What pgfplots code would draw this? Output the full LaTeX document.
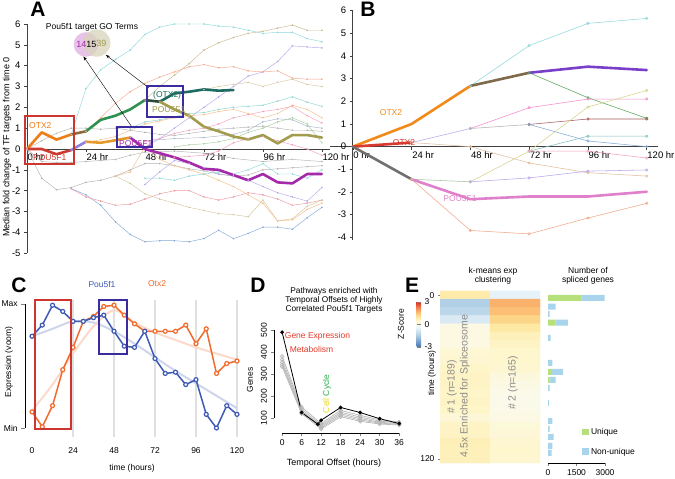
\documentclass[border=0pt]{standalone}
\usepackage{fontspec}
\setmainfont{Liberation Sans}
\usepackage{pgfplots}
\pgfplotsset{compat=1.18}
\usetikzlibrary{arrows.meta}
\newcommand\fs[1]{\fontsize{#1}{#1}\selectfont}

% panel A
\definecolor{aOrange}{HTML}{F07D14}
\definecolor{aBrown}{HTML}{8C6A40}
\definecolor{aGreen}{HTML}{2F9150}
\definecolor{aDark}{HTML}{2B4A3A}
\definecolor{aTeal}{HTML}{1E6B62}
\definecolor{aOlive}{HTML}{A29C4C}
\definecolor{aRed}{HTML}{CC3A30}
\definecolor{aLav}{HTML}{8E80E0}
\definecolor{aGold}{HTML}{E39A2A}
\definecolor{aMag}{HTML}{A52AAA}
\definecolor{boxRed}{HTML}{CC3530}
\definecolor{boxBlue}{HTML}{3A2CA0}
\definecolor{vPink}{HTML}{E6BCE6}
\definecolor{vBeige}{HTML}{D8D4BA}
\definecolor{tcyan}{HTML}{90D8DC}
\definecolor{ttan}{HTML}{C9B98E}
\definecolor{tlav}{HTML}{B9A6EA}
\definecolor{tsal}{HTML}{F3A98C}
\definecolor{tcyanb}{HTML}{8ED6CF}
\definecolor{torange}{HTML}{F6BE88}
\definecolor{tpink}{HTML}{F0A0BC}
\definecolor{tgray}{HTML}{B3B3B3}
\definecolor{tblue}{HTML}{82AAD8}
\definecolor{tred}{HTML}{EC98A0}
\definecolor{ttanb}{HTML}{D6C8A2}
\definecolor{tgreen}{HTML}{A8D0A0}
\definecolor{tgb}{HTML}{A8B8C8}
% panel B
\definecolor{bOrange}{HTML}{F28A1A}
\definecolor{bBrown}{HTML}{7E6A4A}
\definecolor{bPurple}{HTML}{7A3FC8}
\definecolor{bRed}{HTML}{D93A2E}
\definecolor{bGray}{HTML}{707070}
\definecolor{bPink}{HTML}{E080CC}
% panel C
\definecolor{cBlue}{HTML}{3E5AB4}
\definecolor{cOrange}{HTML}{F26B2C}
% panel D
\definecolor{dRed}{HTML}{E53A2A}
\definecolor{dYellow}{HTML}{E8D81E}
\definecolor{dGreen}{HTML}{2CB04A}
% panel E
\definecolor{uGreen}{HTML}{B5E07A}
\definecolor{nBlue}{HTML}{A8D4EC}

\pgfplotsset{
  /pgf/number format/assume math mode=true,
  tick label style={font=\fs{8.5}},
  thinA/.style={line width=0.45pt, mark=*, mark size=0.55pt, color=#1},
  thinB/.style={line width=0.55pt, mark=o, mark size=1.2pt, color=#1},
  thickL/.style={line width=2.6pt, line join=round, line cap=round, no markers, color=#1},
}

\begin{document}
\begin{tikzpicture}
\path[use as bounding box, fill=white] (0,0) rectangle (675pt,479pt);

% ---------------- A ----------------
\begin{axis}[
  at={(27pt,225.8pt)}, anchor=south west, scale only axis,
  width=303pt, height=229.2pt,
  xmin=0, xmax=123.3, ymin=-5, ymax=6,
  axis x line=middle, axis y line=left,
  hide obscured x ticks=false, hide obscured y ticks=false,
  axis line style={-, line width=0.6pt, black!75},
  xtick={0,24,48,72,96,120}, xticklabels={0 hr,24 hr,48 hr,72 hr,96 hr,120 hr},
  xticklabel style={anchor=north west, inner sep=0pt, xshift=0.5pt, yshift=-1.5pt, font=\fs{9.5}},
  ytick={-5,...,6}, yticklabel style={font=\fs{9.5}},
  tick align=outside, major tick length=3pt, tick style={black!75, line width=0.5pt},
  clip=false,
]
\addplot[thinA=tcyan] coordinates {(18,0.7)(24,2.9)(30,3.8)(36,4.3)(42,4.75)(48,5.5)(54,5.85)(60,6.0)(66,6.0)(72,6.0)(78,5.9)(84,5.85)(90,5.7)(96,5.55)(102,5.6)(108,5.6)(114,5.3)(120,5.15)};
\addplot[thinA=ttan] coordinates {(48,2.35)(54,3.0)(60,3.55)(66,4.1)(72,4.75)(78,5.1)(84,5.35)(90,5.55)(96,5.65)(102,5.8)(108,5.95)(114,5.7)(120,5.7)};
\addplot[thinA=tlav] coordinates {(42,0.55)(48,0.1)(54,0.5)(60,1.0)(66,1.5)(72,2.0)(78,2.5)(84,3.0)(90,3.5)(96,3.7)(102,4.2)(108,4.95)(114,4.9)(120,4.85)};
\addplot[thinA=tsal] coordinates {(24,0.85)(30,1.5)(36,2.2)(42,2.75)(48,3.15)(54,3.45)(60,3.7)(66,3.95)(72,4.05)(78,3.9)(84,3.95)(90,3.75)(96,3.7)(102,3.75)(108,3.4)(114,3.35)(120,3.35)};
\addplot[thinA=ttanb] coordinates {(72,2.85)(78,3.0)(84,3.1)(90,3.2)(96,3.0)(102,3.2)(108,3.35)(114,3.1)(120,3.0)};
\addplot[thinA=tcyanb] coordinates {(42,1.0)(48,1.3)(54,1.4)(60,1.55)(66,1.7)(72,1.75)(78,1.9)(84,2.0)(90,2.05)(96,2.1)(102,2.3)(108,2.5)(114,2.25)(120,2.05)};
\addplot[thinA=torange] coordinates {(24,0.3)(30,0.45)(36,0.6)(42,0.9)(48,1.2)(54,1.35)(60,1.5)(66,1.6)(72,1.65)(78,1.8)(84,1.9)(90,1.7)(96,1.5)(102,1.7)(108,2.1)(114,1.9)(120,1.5)};
\addplot[thinA=tpink] coordinates {(48,0.35)(54,0.5)(60,0.75)(66,0.9)(72,1.0)(78,1.2)(84,1.5)(90,1.65)(96,1.8)(102,1.9)(108,2.05)(114,1.6)(120,1.25)};
\addplot[thinA=tgray] coordinates {(0,0)(6,0.4)(12,0.75)(18,1.0)(24,1.0)(30,0.95)(36,1.0)(42,0.9)(48,0.8)(54,0.7)(60,0.65)(66,0.75)(72,0.85)(78,0.95)(84,1.0)(90,1.05)(96,1.1)(102,1.0)(108,0.9)(114,0.9)(120,0.85)};
\addplot[thinA=tgb] coordinates {(48,0.4)(60,0.5)(72,0.55)(84,0.7)(90,0.9)(96,1.3)(102,1.45)(108,1.4)(114,1.1)(120,1.0)};
\addplot[thinA=tgreen] coordinates {(60,0.1)(66,0.2)(72,0.25)(78,0.35)(84,0.5)(90,0.8)(96,1.0)(102,1.3)(108,1.5)(114,1.2)(120,0.3)};
\addplot[thinA=tpink] coordinates {(54,-0.3)(60,-0.4)(66,-0.35)(72,-0.3)(78,-0.1)(84,0.3)(90,0.5)(96,0.6)(102,0.4)(108,0.2)(114,0.0)(120,-0.3)};
\addplot[thinA=tgray] coordinates {(0,0)(6,-1.4)(12,-1.95)(18,-1.85)(24,-1.6)(30,-1.5)(36,-1.3)(42,-1.0)(48,-0.7)(54,-0.7)(60,-0.8)(66,-0.95)(72,-1.05)(78,-1.2)(84,-1.3)(90,-1.25)(96,-1.0)(102,-0.95)(108,-0.9)(114,-0.85)(120,-0.8)};
\addplot[thinA=tgray] coordinates {(0,0)(6,-0.6)(12,-0.65)(18,-0.65)(24,-0.6)(30,-0.55)(36,-0.5)(42,-0.3)(48,-0.15)(60,-0.1)(72,-0.2)(84,-0.45)(96,-0.6)(108,-0.5)(120,-0.6)};
\addplot[thinA=tblue] coordinates {(18,-1.9)(24,-2.2)(30,-2.7)(36,-3.5)(42,-4.1)(48,-4.45)(54,-4.4)(60,-4.4)(66,-4.45)(72,-4.3)(78,-3.9)(84,-4.3)(90,-4.05)(96,-3.75)(102,-3.75)(108,-3.85)(114,-3.3)(120,-2.8)};
\addplot[thinA=tred] coordinates {(18,-1.9)(24,-2.3)(30,-2.5)(36,-2.7)(42,-2.65)(48,-2.4)(54,-2.15)(60,-2.0)(66,-2.0)(72,-2.3)(78,-2.45)(84,-2.3)(90,-2.1)(96,-2.2)(102,-2.4)(108,-2.7)(114,-2.6)(120,-2.45)};
\addplot[thinA=ttanb] coordinates {(36,-1.3)(42,-1.65)(48,-2.15)(54,-2.4)(60,-2.6)(66,-2.8)(72,-2.95)(78,-3.1)(84,-3.15)(90,-3.25)(96,-2.45)(102,-3.45)(108,-3.35)(114,-2.75)(120,-2.45)};
\addplot[thinA=torange] coordinates {(36,-1.3)(42,-1.1)(48,0.1)(54,-0.5)(60,-0.8)(66,-1.0)(72,-1.2)(78,-1.5)(84,-1.8)(90,-2.2)(96,-2.6)(102,-3.45)(108,-3.4)(114,-2.9)(120,-2.6)};
\addplot[thinA=tlav] coordinates {(48,-1.7)(54,-1.1)(60,-0.55)(66,-0.7)(72,-0.9)(78,-1.2)(84,-1.3)(90,-1.5)(96,-1.8)(102,-2.1)(108,-2.3)(114,-2.5)(120,-1.85)};
\addplot[thinA=tcyan] coordinates {(48,-1.4)(54,-1.4)(60,-1.5)(66,-1.3)(72,-1.2)(78,-1.1)(84,-1.2)(90,-1.0)(96,-0.7)(102,-1.2)(108,-1.2)(114,-1.4)(120,-1.0)};
% thick
\addplot[thickL=aOrange] coordinates {(0,0)(6,0.8)(12,0.45)(18,0.7)};
\addplot[thickL=aBrown] coordinates {(18,0.7)(24,0.85)};
\addplot[thickL=aGreen] coordinates {(24,0.85)(30,1.4)(36,1.6)(42,1.9)(48,2.35)};
\addplot[thickL=aDark] coordinates {(48,2.35)(54,2.27)};
\addplot[thickL=aTeal] coordinates {(54,2.27)(60,2.67)(66,2.75)(72,2.86)(78,2.8)(84,2.83)};
\addplot[thickL=aOlive] coordinates {(54,2.27)(60,1.9)(66,1.6)(72,1.07)(78,0.85)(84,0.6)(90,0.46)(96,0.67)(102,0.27)(108,0.67)(114,0.67)(120,0.55)};
\addplot[thickL=aRed] coordinates {(0,0)(6,0)(12,-0.25)(18,-0.05)};
\addplot[thickL=aLav] coordinates {(18,-0.05)(24,0.35)};
\addplot[thickL=aGold] coordinates {(24,0.35)(30,0.3)(36,0.42)(42,0.55)};
\addplot[thickL=aMag] coordinates {(42,0.55)(48,0.0)(54,-0.2)(60,-0.4)(66,-0.65)(72,-0.95)(78,-1.0)(84,-1.25)(90,-1.5)(96,-1.2)(102,-1.6)(108,-1.65)(114,-1.2)(120,-1.2)};
\end{axis}

% ---------------- B ----------------
\begin{axis}[
  at={(330pt,239pt)}, anchor=south west, scale only axis,
  width=328pt, height=229.3pt,
  xmin=-9.3, xmax=124.6, ymin=-4.12, ymax=6,
  axis x line=middle, axis y line=middle,
  hide obscured x ticks=false, hide obscured y ticks=false,
  axis line style={-, line width=0.6pt, black!75},
  xtick={0,24,48,72,96,120}, xticklabels={0 hr,24 hr,48 hr,72 hr,96 hr,120 hr},
  xticklabel style={anchor=north west, inner sep=0pt, xshift=0.5pt, yshift=-1.5pt, font=\fs{9.5}},
  ytick={-4,...,6}, yticklabel style={font=\fs{9.5}},
  tick align=outside, major tick length=3pt, tick style={black!75, line width=0.5pt},
  clip=false,
]
\addplot[thinB=tcyan] coordinates {(48,2.68)(72,4.46)(96,5.44)(120,5.66)};
\addplot[thinB={green!30!gray}] coordinates {(72,3.26)(96,2.16)(120,1.25)};
\addplot[thinB={magenta!45}] coordinates {(48,0.8)(72,1.72)(96,2.1)(120,2.1)};
\addplot[thinB=tlav] coordinates {(24,0.18)(48,0.8)};
\addplot[thinB=tgray] coordinates {(48,0.8)(72,0.98)};
\addplot[thinB={red!30!gray}] coordinates {(72,0.98)(96,1.22)(120,1.22)};
\addplot[thinB=tblue] coordinates {(72,0.98)(96,0.25)(120,0.0)};
\addplot[thinB={teal!50}] coordinates {(72,-0.2)(96,0.46)(120,0.46)};
\addplot[thinB={brown!50}] coordinates {(24,0.18)(48,0.0)(72,-0.72)(96,-1.15)(120,-1.3)};
\addplot[thinB={olive!35}] coordinates {(48,-1.55)(72,-0.2)(96,1.75)(120,2.48)};
\addplot[thinB=tpink] coordinates {(72,-0.2)(96,-0.2)(120,-0.5)};
\addplot[thinB={green!20!gray!60}] coordinates {(24,-1.44)(48,-1.55)};
\addplot[thinB=tlav] coordinates {(48,-1.55)(72,-1.38)(96,-1.08)(120,-1.03)};
\addplot[thinB=tsal] coordinates {(24,-1.44)(48,-3.7)(72,-3.85)(96,-3.15)(120,-2.5)};
\addplot[thickL=bOrange] coordinates {(0,0)(24,1.0)(48,2.68)};
\addplot[thickL=bBrown] coordinates {(48,2.68)(72,3.26)};
\addplot[thickL=bPurple] coordinates {(72,3.26)(96,3.53)(120,3.38)};
\addplot[thickL=bRed] coordinates {(0,0)(24,0.18)};
\addplot[thickL=bGray] coordinates {(0,0)(24,-1.44)};
\addplot[thickL=bPink] coordinates {(24,-1.44)(48,-2.32)(72,-2.2)(96,-2.2)(120,-1.99)};
\end{axis}

% ---------------- C ----------------
\begin{axis}[
  at={(25.2pt,38.6pt)}, anchor=south west, scale only axis,
  width=215.2pt, height=148.8pt,
  xmin=-4, xmax=122, ymin=-0.1, ymax=1.1,
  axis line style={draw=none},
  xtick={0,24,...,120}, xtick pos=bottom, ytick pos=left,
  ytick={0,1}, yticklabels={Min,Max},
  tick align=outside, major tick length=4pt,
  xtick style={draw=none}, ytick style={line width=0.6pt},
  clip=false,
]
\draw[line width=0.6pt] (axis cs:-4,0) -- (axis cs:-4,1);
\pgfplotsinvokeforeach{24,48,72,96,120}{\draw[black!12, line width=1.3pt] (axis cs:#1,-0.07) -- (axis cs:#1,1.03);}
\addplot[color=cBlue!25, line width=2pt, no markers, smooth] coordinates {(0,0.74)(12,0.8)(24,0.86)(36,0.85)(48,0.78)(60,0.68)(72,0.57)(84,0.46)(96,0.36)(108,0.26)(120,0.16)};
\addplot[color=cOrange!25, line width=2pt, no markers, smooth] coordinates {(0,0.14)(12,0.35)(24,0.6)(36,0.82)(48,0.95)(60,0.85)(72,0.77)(84,0.71)(96,0.65)(108,0.6)(120,0.55)};
\addplot[color=cOrange, line width=1.5pt, mark=*, mark size=2pt, mark options={fill=white, line width=1.2pt}] coordinates {(0,0.13)(6,0.01)(12,0.18)(18,0.47)(24,0.65)(30,0.86)(36,0.9)(42,0.98)(48,0.99)(54,0.91)(60,0.84)(66,0.78)(72,0.78)(78,0.78)(84,0.78)(90,0.83)(96,0.68)(102,0.8)(108,0.44)(114,0.52)(120,0.54)};
\addplot[color=cBlue, line width=1.5pt, mark=*, mark size=2pt, mark options={fill=white, line width=1.2pt}] coordinates {(0,0.74)(6,0.83)(12,0.99)(18,0.94)(24,0.86)(30,0.86)(36,0.89)(42,0.91)(48,0.78)(54,0.66)(60,0.65)(66,0.78)(72,0.56)(78,0.44)(84,0.45)(90,0.35)(96,0.39)(102,0.11)(108,0.0)(114,0.18)(120,0.11)};
\end{axis}

% ---------------- D ----------------
\begin{axis}[
  at={(274pt,46pt)}, anchor=south west, scale only axis,
  width=128.4pt, height=105.2pt,
  xmin=-2.5, xmax=37, ymin=32, ymax=510,
  axis line style={draw=none},
  xtick={0,6,...,36}, ytick={100,200,...,500},
  xtick pos=bottom, ytick pos=left, tick align=outside, major tick length=3.5pt,
  tick style={line width=0.6pt},
  yticklabel style={rotate=90, anchor=south},
  clip=false,
]
\draw[line width=0.6pt] (axis cs:-2.5,100) -- (axis cs:-2.5,500);
\draw[line width=0.6pt] (axis cs:0,32) -- (axis cs:36,32);
\addplot[color=black!28, line width=0.7pt, mark=o, mark size=1.8pt] coordinates {(0,380)(6,150)(12,75)(18,135)(24,112)(30,92)(36,82)};
\addplot[color=black!28, line width=0.7pt, mark=o, mark size=1.8pt] coordinates {(0,365)(6,140)(12,68)(18,127)(24,104)(30,86)(36,78)};
\addplot[color=black!28, line width=0.7pt, mark=o, mark size=1.8pt] coordinates {(0,352)(6,132)(12,62)(18,120)(24,97)(30,81)(36,74)};
\addplot[color=black!28, line width=0.7pt, mark=o, mark size=1.8pt] coordinates {(0,342)(6,126)(12,56)(18,113)(24,91)(30,77)(36,71)};
\addplot[color=black!28, line width=0.7pt, mark=o, mark size=1.8pt] coordinates {(0,333)(6,120)(12,50)(18,106)(24,85)(30,73)(36,68)};
\addplot[color=black, line width=0.8pt, mark=*, mark size=1.5pt] coordinates {(0,490)(6,125)(11,72)(12,90)(18,148)(24,125)(30,97)(36,75)};
\end{axis}

% ---------------- E heatmap ----------------
\begin{axis}[
  at={(440pt,16pt)}, anchor=south west, scale only axis,
  width=100pt, height=172pt,
  xmin=-0.5, xmax=1.5, ymin=-0.5, ymax=20.5, y dir=reverse, enlargelimits=false,
  axis line style={draw=none}, xtick=\empty, ytick={0,20}, yticklabels={0,120},
  ytick pos=left, tick align=outside, major tick length=2pt,
  colormap={zs}{rgb255(0)=(69,117,180) rgb255(6)=(171,204,228) rgb255(10)=(230,242,248) rgb255(12)=(250,250,238) rgb255(14)=(254,246,205) rgb255(16)=(254,232,160) rgb255(18)=(253,200,120) rgb255(21)=(245,130,80) rgb255(24)=(215,48,39)},
  point meta min=-3, point meta max=3,
  colorbar,
  colorbar style={at={(parent axis.north west)}, anchor=north west, xshift=-32pt, yshift=-11pt,
    scale only axis, width=4.5pt, height=45pt, ytick={-3,0,3}, major tick length=2pt,
    axis line style={draw=none}, yticklabel style={font=\fs{8.5}}},
]
\addplot[matrix plot*, mesh/cols=2, point meta=explicit] table[x=x, y=y, meta=z] {
x y z
0 0 0.9
1 0 -0.5
0 1 -1.4
1 1 1.75
0 2 -1.2
1 2 1.6
0 3 -0.7
1 3 1.3
0 4 0.15
1 4 0.95
0 5 0.2
1 5 0.7
0 6 0.2
1 6 0.6
0 7 0.4
1 7 0.5
0 8 0.45
1 8 0.5
0 9 0.55
1 9 0.45
0 10 0.6
1 10 0.25
0 11 0.6
1 11 0.15
0 12 0.55
1 12 0.1
0 13 0.6
1 13 0.05
0 14 0.55
1 14 0.1
0 15 0.35
1 15 0.15
0 16 0.6
1 16 0.3
0 17 0.6
1 17 0.35
0 18 0.75
1 18 0.45
0 19 0.7
1 19 0.5
0 20 0.7
1 20 0.45
};
\end{axis}

% ---------------- E bars ----------------
\begin{axis}[
  at={(548pt,16pt)}, anchor=south west, scale only axis,
  width=57pt, height=172pt,
  xmin=0, xmax=3000, ymin=-0.5, ymax=20.5, y dir=reverse,
  xbar stacked, bar width=6pt,
  axis x line=bottom, axis y line=none, axis line style={-, line width=0.6pt},
  xtick={0,1500,3000}, scaled x ticks=false,
  xticklabel style={/pgf/number format/1000 sep={}},
  tick align=outside, major tick length=3pt, tick style={line width=0.6pt},
  legend style={at={(axis description cs:0.6,0.215)}, anchor=north west, draw=none, fill=none,
    font=\fs{8.5}, row sep=8pt, inner sep=0pt},
  legend cell align=left,
  legend image code/.code={\draw[#1, draw=none] (0pt,-3.3pt) rectangle (6.6pt,3.3pt);},
  clip=false,
]
\addplot[fill=uGreen, draw=none] coordinates {(1760,0.35)(0,1.41)(0,2.3)(390,3.37)(0,5.23)(0,8.28)(210,9.38)(90,10.35)(0,11.33)(0,13.16)(0,15.35)(0,16.33)(0,17.3)(0,18.4)(0,19.26)};
\addplot[fill=nBlue, draw=none] coordinates {(1220,0.35)(405,1.41)(90,2.3)(660,3.37)(140,5.23)(230,8.28)(580,9.38)(315,10.35)(90,11.33)(50,13.16)(230,15.35)(90,16.33)(300,17.3)(230,18.4)(195,19.26)};
\legend{Unique, Non-unique}
\end{axis}

% ---------------- annotations (image coordinates, y down) ----------------
\begin{scope}[shift={(0,479pt)}, yscale=-1]
\node[font=\fs{21}\bfseries] at (38pt,9pt) {A};
\node[font=\fs{21}\bfseries] at (368pt,9pt) {B};
\node[font=\fs{21}\bfseries] at (19pt,285pt) {C};
\node[font=\fs{21}\bfseries] at (258pt,285pt) {D};
\node[font=\fs{21}\bfseries] at (412pt,285pt) {E};

% A
\node[rotate=90, font=\fs{9}] at (7pt,147pt) {Median fold change of TF targets from time 0};
\node[font=\fs{8.5}] at (92pt,27pt) {Pou5f1 target GO Terms};
\fill[vPink, opacity=0.9] (86pt,44.5pt) circle (12.3pt);
\fill[vBeige, opacity=0.75] (96.7pt,43pt) circle (13.7pt);
\node[font=\fs{9}, text=aMag] at (81.5pt,44.5pt) {14};
\node[font=\fs{9}] at (91.5pt,44.5pt) {15};
\node[font=\fs{9}, text=aOlive] at (101.5pt,43pt) {39};
\draw[-{Stealth[length=4pt,width=3pt]}, line width=0.4pt] (131.7pt,126.7pt) -- (83.5pt,56.5pt);
\draw[-{Stealth[length=4pt,width=3pt]}, line width=0.4pt] (149pt,88pt) -- (106pt,55pt);
\draw[boxRed, line width=2.2pt] (25pt,116pt) rectangle (74pt,164pt);
\draw[boxBlue, line width=2.2pt] (147.3pt,85.7pt) rectangle (182.7pt,116.7pt);
\draw[boxBlue, line width=2.2pt] (116.7pt,126.7pt) rectangle (152.3pt,147.3pt);
\node[font=\fs{8.5}, text=aOrange, anchor=west, inner sep=0pt] at (29pt,126pt) {OTX2};
\node[font=\fs{8.5}, text=aRed, anchor=west, inner sep=0pt] at (33pt,157.5pt) {POU5F1};
\node[font=\fs{8.5}, text=aTeal, anchor=west, inner sep=0pt] at (153pt,95pt) {(OTX2)};
\node[font=\fs{8.5}, text=aOlive, anchor=west, inner sep=0pt] at (152pt,110pt) {POU5F1};
\node[font=\fs{8.5}, text=aMag, anchor=west, inner sep=0pt] at (119pt,144pt) {POU5F1};

% B
\node[font=\fs{8.5}, text=bOrange] at (391pt,113pt) {OTX2};
\node[font=\fs{8.5}, text=bRed] at (404pt,143pt) {OTX2};
\node[font=\fs{8.5}, text=bPink] at (460pt,199pt) {POU5F1};

% C
\node[font=\fs{8.5}, text=cBlue] at (102pt,284pt) {Pou5f1};
\node[font=\fs{8.5}, text=cOrange] at (157pt,284pt) {Otx2};
\node[rotate=90, font=\fs{8.5}] at (9pt,362pt) {Expression (voom)};
\node[font=\fs{8.5}] at (132pt,468pt) {time (hours)};
\draw[boxRed, line width=2.2pt] (35pt,300pt) rectangle (71pt,429pt);
\draw[boxBlue, line width=2.2pt] (99pt,300pt) rectangle (127pt,354pt);

% D
\node[font=\fs{8.3}, align=center, inner sep=0pt] at (334pt,300.5pt) {Pathways enriched with\\[0.6pt]Temporal Offsets of Highly\\[0.6pt]Correlated Pou5f1 Targets};
\node[font=\fs{8.5}, text=dRed] at (317.5pt,336pt) {Gene Expression};
\node[font=\fs{8.5}, text=dRed] at (311.5pt,349pt) {Metabolism};
\node[rotate=90, font=\fs{8.5}] at (327pt,394pt) {\textcolor{dYellow}{Cell} \textcolor{dGreen}{Cycle}};
\node[rotate=90, font=\fs{8.5}] at (250pt,380pt) {Genes};
\node[font=\fs{9}] at (334pt,463pt) {Temporal Offset (hours)};

% E
\node[font=\fs{8.5}, align=center, inner sep=0pt] at (493pt,276pt) {k-means exp\\[1pt]clustering};
\node[font=\fs{8.5}, align=center, inner sep=0pt] at (588pt,276pt) {Number of\\[1pt]spliced genes};
\node[rotate=90, font=\fs{8.5}] at (401pt,324pt) {Z-Score};
\node[rotate=90, font=\fs{8.5}] at (432pt,373pt) {time (hours)};
\node[rotate=90, font=\fs{10.5}, text=black!45] at (452pt,387pt) {\# 1 (n=189)};
\node[rotate=90, font=\fs{10.5}, text=black!45] at (465pt,386pt) {4.5x Enriched for Spliceosome};
\node[rotate=90, font=\fs{10.5}, text=black!45] at (513pt,383pt) {\# 2 (n=165)};
\end{scope}
\end{tikzpicture}
\end{document}
